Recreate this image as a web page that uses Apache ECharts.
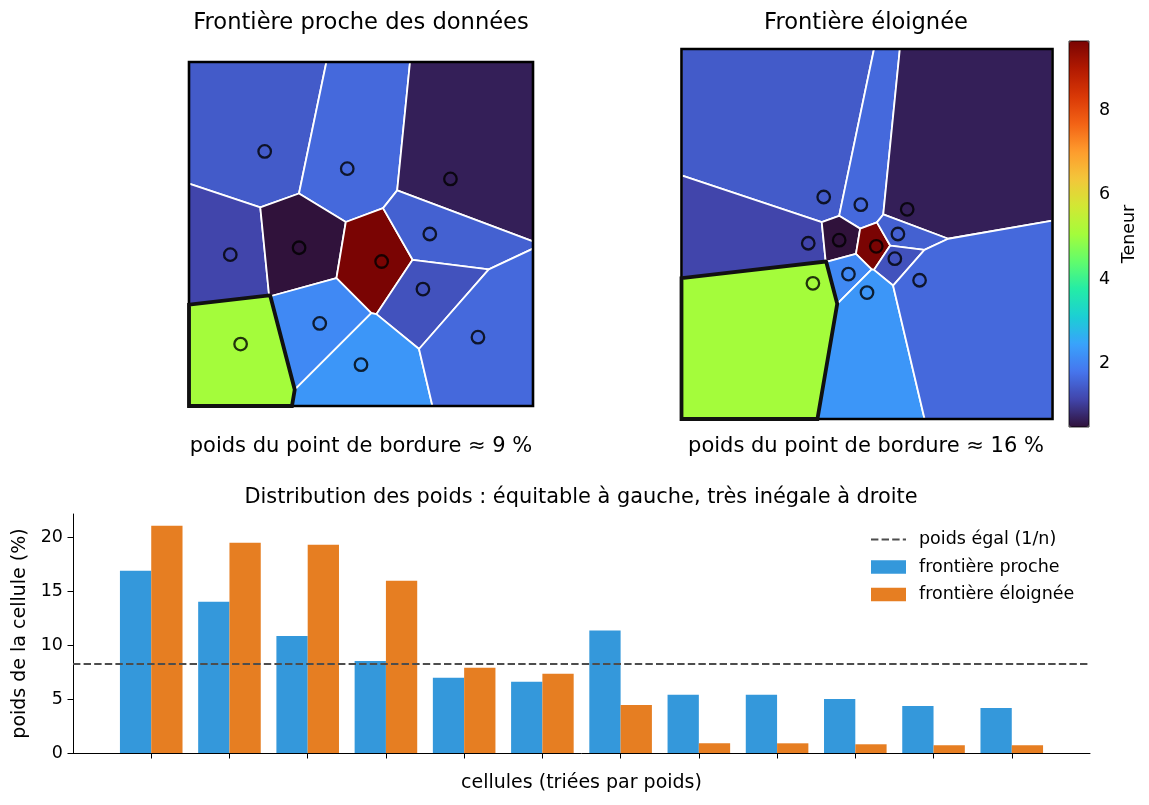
<!DOCTYPE html>
<html>
<head>
<meta charset="utf-8">
<script src="https://cdn.jsdelivr.net/npm/echarts@6/dist/echarts.min.js"></script>
<style>html,body{margin:0;padding:0;background:#fff}#c{width:1149px;height:805px}</style>
</head>
<body>
<div id="c"></div>
<script>
// ---- data ----
const cellX = [0.22, 0.46, 0.76, 0.12, 0.32, 0.56, 0.70, 0.68, 0.15, 0.38, 0.50, 0.84];
const cellY = [0.74, 0.69, 0.66, 0.44, 0.46, 0.42, 0.50, 0.34, 0.18, 0.24, 0.12, 0.20];
const teneur = [1.46, 1.65, 0.68, 1.16, 0.51, 9.63, 1.54, 1.34, 5.07, 2.10, 2.29, 1.65];
const borderIndex = 8;
const nearDomain = [0, 1];
const farDomain = [-0.7, 1.7];

const categories = ['c1','c2','c3','c4','c5','c6','c7','c8','c9','c10','c11','c12'];
const poidsProche = [16.93, 14.04, 10.87, 8.54, 6.99, 6.61, 11.39, 5.40, 5.40, 5.02, 4.37, 4.18];
const poidsEloignee = [21.12, 19.53, 19.35, 15.99, 7.93, 7.36, 4.46, 0.90, 0.90, 0.81, 0.72, 0.72];
const yTicks = [0, 5, 10, 15, 20];
const cbTicks = [2, 4, 6, 8];

// turbo colormap stops
const turbo = ["#30123b","#4145ab","#4675ed","#39a2fc","#1bcfd4","#24eca6","#61fc6c","#a4fc3b","#d1e834","#f3c63a","#fe9b2d","#f36315","#d93806","#b11901","#7a0403"];

const FONT = 'DejaVu Sans';

// ---- Voronoi by half-plane clipping ----
function clip(poly, nx, ny, c) {
  const out = [];
  for (let k = 0; k < poly.length; k++) {
    const a = poly[k], b = poly[(k + 1) % poly.length];
    const da = nx * a[0] + ny * a[1] - c, db = nx * b[0] + ny * b[1] - c;
    if (da <= 0) out.push(a);
    if ((da < 0 && db > 0) || (da > 0 && db < 0)) {
      const t = da / (da - db);
      out.push([a[0] + t * (b[0] - a[0]), a[1] + t * (b[1] - a[1])]);
    }
  }
  return out;
}
function voronoi(xs, ys, dom) {
  const lo = dom[0], hi = dom[1];
  const box = [[lo, lo], [hi, lo], [hi, hi], [lo, hi]];
  return xs.map((px, i) => {
    let poly = box;
    const py = ys[i];
    xs.forEach((qx, j) => {
      if (i === j) return;
      const qy = ys[j];
      const nx = qx - px, ny = qy - py;
      const c = (nx * (px + qx) + ny * (py + qy)) / 2;
      poly = clip(poly, nx, ny, c);
    });
    return poly;
  });
}
const cellsNear = voronoi(cellX, cellY, nearDomain);
const cellsFar = voronoi(cellX, cellY, farDomain);

const pointData = cellX.map((x, i) => [x, cellY[i], teneur[i]]);

function cellSeries(idx, cells) {
  return {
    type: 'custom', xAxisIndex: idx, yAxisIndex: idx, z: 2, silent: true,
    data: pointData, encode: { x: 0, y: 1 }, clip: false,
    renderItem: function (params, api) {
      const pts = cells[params.dataIndex].map(p => api.coord(p));
      return { type: 'polygon', shape: { points: pts },
        style: { fill: api.visual('color'), stroke: '#ffffff', lineWidth: 1.8, lineJoin: 'round' } };
    }
  };
}
function outlineSeries(idx, cells, dom) {
  return {
    type: 'custom', xAxisIndex: idx, yAxisIndex: idx, z: 3, silent: true, clip: false,
    data: [[cellX[borderIndex], cellY[borderIndex]]], encode: { x: 0, y: 1 },
    renderItem: function (params, api) {
      const lo = dom[0], hi = dom[1];
      const boxPts = [[lo, lo], [hi, lo], [hi, hi], [lo, hi]].map(p => api.coord(p));
      const cellPts = cells[borderIndex].map(p => api.coord(p));
      return { type: 'group', children: [
        { type: 'polygon', shape: { points: boxPts }, style: { fill: 'none', stroke: '#000', lineWidth: 2.6, lineJoin: 'miter' } },
        { type: 'polygon', shape: { points: cellPts }, style: { fill: 'none', stroke: '#111', lineWidth: 3.8, lineJoin: 'miter' } }
      ] };
    }
  };
}
function pointSeries(idx) {
  return {
    type: 'scatter', xAxisIndex: idx, yAxisIndex: idx, z: 4, silent: true,
    data: pointData.map(d => [d[0], d[1]]), symbol: 'circle', symbolSize: 12.5,
    itemStyle: { color: 'rgba(0,0,0,0)', borderColor: '#000', borderWidth: 2.3 }
  };
}

const equalWeight = 100 / categories.length;
const padCats = [''].concat(categories, ['']);
const padNear = [null].concat(poidsProche, [null]);
const padFar = [null].concat(poidsEloignee, [null]);
const tMin = Math.min.apply(null, teneur), tMax = Math.max.apply(null, teneur);

const txt = { fontFamily: FONT, color: '#000', fontWeight: 'normal' };
const DASH = [7.4, 3.2];

const option = {
  animation: false,
  backgroundColor: '#fff',
  textStyle: { fontFamily: FONT },
  title: [
    { text: 'Frontière proche des données', left: 361, top: 11.5, textAlign: 'center', padding: 0, textStyle: Object.assign({ fontSize: 22.6 }, txt) },
    { text: 'Frontière éloignée', left: 866, top: 11.5, textAlign: 'center', padding: 0, textStyle: Object.assign({ fontSize: 22.6 }, txt) },
    { text: 'poids du point de bordure ≈ 9 %', left: 361, top: 436.5, textAlign: 'center', padding: 0, textStyle: Object.assign({ fontSize: 21 }, txt) },
    { text: 'poids du point de bordure ≈ 16 %', left: 866, top: 436.5, textAlign: 'center', padding: 0, textStyle: Object.assign({ fontSize: 21 }, txt) },
    { text: 'Distribution des poids : équitable à gauche, très inégale à droite', left: 581, top: 487.5, textAlign: 'center', padding: 0, textStyle: Object.assign({ fontSize: 20.9 }, txt) }
  ],
  grid: [
    { left: 189, top: 62, width: 344, height: 344 },
    { left: 681.5, top: 49, width: 371, height: 370 },
    { left: 1069, top: 41, width: 20, height: 386, show: true, borderColor: '#000', borderWidth: 0.8, backgroundColor: 'transparent', z: 10 },
    { left: 73, top: 514, right: 59, bottom: 52 }
  ],
  xAxis: [
    { gridIndex: 0, type: 'value', min: nearDomain[0], max: nearDomain[1], show: false },
    { gridIndex: 1, type: 'value', min: farDomain[0], max: farDomain[1], show: false },
    { gridIndex: 2, type: 'value', min: 0, max: 1, show: false },
    { gridIndex: 3, type: 'category', data: padCats, boundaryGap: false,
      axisLine: { lineStyle: { color: '#000', width: 1 } },
      axisTick: { show: true, length: 5.5, lineStyle: { color: '#000', width: 1 }, interval: function (i) { return i > 0 && i < padCats.length - 1; } },
      axisLabel: { show: false },
      name: 'cellules (triées par poids)', nameLocation: 'middle', nameGap: 21,
      nameTextStyle: Object.assign({ fontSize: 19 }, txt) }
  ],
  yAxis: [
    { gridIndex: 0, type: 'value', min: nearDomain[0], max: nearDomain[1], show: false },
    { gridIndex: 1, type: 'value', min: farDomain[0], max: farDomain[1], show: false },
    { gridIndex: 2, type: 'value', min: tMin, max: tMax, position: 'right',
      axisLine: { show: false }, splitLine: { show: false },
      axisTick: { show: true, length: 5.5, customValues: cbTicks, lineStyle: { color: '#000', width: 0.8 } },
      axisLabel: { customValues: cbTicks, fontSize: 17.5, color: '#000', fontFamily: FONT, margin: 10 },
      name: 'Teneur', nameLocation: 'middle', nameRotate: 90, nameGap: 31,
      nameTextStyle: Object.assign({ fontSize: 17.5 }, txt) },
    { gridIndex: 3, type: 'value', min: 0, max: 22.2,
      axisLine: { show: true, lineStyle: { color: '#000', width: 1 } },
      splitLine: { show: false },
      axisTick: { show: true, length: 5.5, customValues: yTicks, lineStyle: { color: '#000', width: 1 } },
      axisLabel: { customValues: yTicks, fontSize: 17.5, color: '#000', fontFamily: FONT, margin: 10 },
      name: 'poids de la cellule (%)', nameLocation: 'middle', nameRotate: 90, nameGap: 41,
      nameTextStyle: Object.assign({ fontSize: 19 }, txt) }
  ],
  visualMap: {
    type: 'continuous', min: tMin, max: tMax, dimension: 2, seriesIndex: [0, 1],
    inRange: { color: turbo }, orient: 'vertical', left: 1069, top: 41,
    itemWidth: 20, itemHeight: 386, padding: 0, calculable: false, text: null,
    hoverLink: false, z: 1
  },
  legend: {
    orient: 'vertical', left: 870, top: 530.5, padding: 0, itemWidth: 35, itemHeight: 13.5, itemGap: 9.5,
    selectedMode: false,
    textStyle: { fontSize: 17.5, color: '#000', fontFamily: FONT, padding: [0, 0, 0, 8] },
    data: [
      { name: 'poids égal (1/n)', itemStyle: { opacity: 0 } },
      { name: 'frontière proche', icon: 'rect' },
      { name: 'frontière éloignée', icon: 'rect' }
    ]
  },
  series: [
    cellSeries(0, cellsNear),
    cellSeries(1, cellsFar),
    outlineSeries(0, cellsNear, nearDomain),
    outlineSeries(1, cellsFar, farDomain),
    pointSeries(0),
    pointSeries(1),
    { type: 'line', name: 'poids égal (1/n)', xAxisIndex: 3, yAxisIndex: 3, data: [], symbol: 'none', z: 6,
      lineStyle: { type: DASH, color: '#4d4d4d', width: 2 }, itemStyle: { color: 'rgba(0,0,0,0)' },
      markLine: { silent: true, symbol: ['none', 'none'], label: { show: false },
        lineStyle: { type: DASH, color: '#4d4d4d', width: 2 }, data: [{ yAxis: equalWeight }] } },
    { type: 'bar', name: 'frontière proche', xAxisIndex: 3, yAxisIndex: 3, data: padNear,
      barWidth: '40%', barGap: '0%', itemStyle: { color: '#3498db' } },
    { type: 'bar', name: 'frontière éloignée', xAxisIndex: 3, yAxisIndex: 3, data: padFar,
      barWidth: '40%', barGap: '0%', itemStyle: { color: '#e67e22' } }
  ]
};
echarts.init(document.getElementById('c')).setOption(option);
</script>
</body>
</html>
